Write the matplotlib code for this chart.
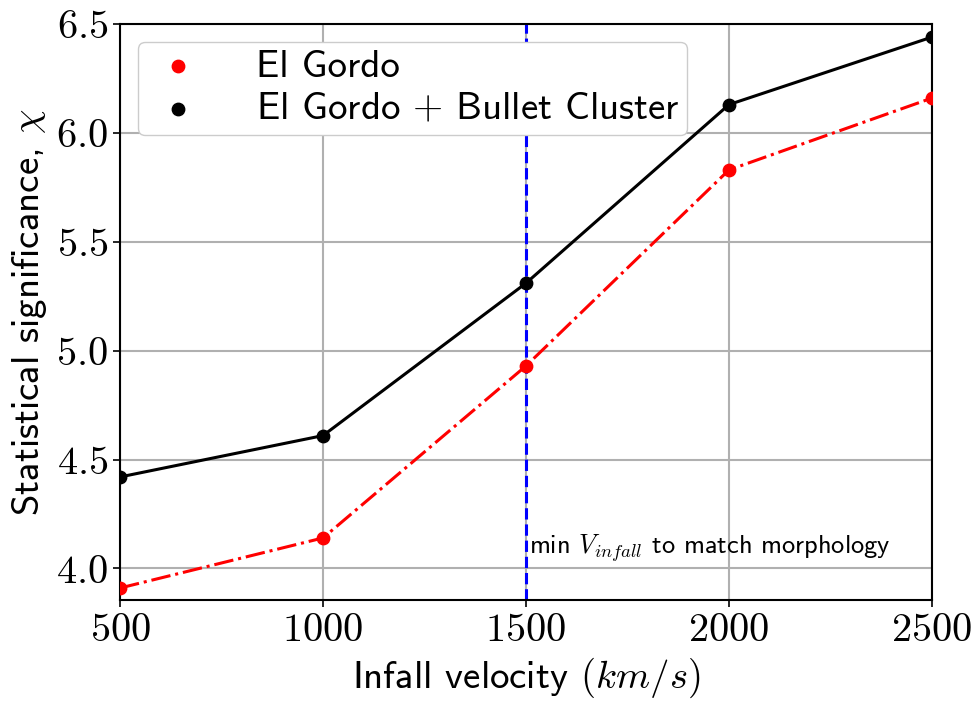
import matplotlib
matplotlib.use("Agg")
import matplotlib.pyplot as plt

plt.rcParams["mathtext.fontset"] = "cm"
plt.rcParams["font.family"] = ["cmss10", "DejaVu Sans"]
plt.rcParams["axes.unicode_minus"] = False

# data
velocity = [500, 1000, 1500, 2000, 2500]
chi_el_gordo = [3.91, 4.14, 4.93, 5.83, 6.16]
chi_combined = [4.42, 4.61, 5.31, 6.13, 6.44]
min_infall = 1500

xticks = [500, 1000, 1500, 2000, 2500]
yticks = [4.0, 4.5, 5.0, 5.5, 6.0, 6.5]

fig = plt.figure(figsize=(9.72, 7.03), dpi=100)
ax = fig.add_axes([120 / 972, 1 - 600 / 703, 812 / 972, 576 / 703])

ax.plot(velocity, chi_el_gordo, "-.", color="red", lw=2.2)
ax.plot(velocity, chi_combined, "-", color="black", lw=2.2)
ax.scatter(velocity, chi_el_gordo, s=80, color="red", zorder=3, label="El Gordo")
ax.scatter(velocity, chi_combined, s=80, color="black", zorder=3,
           label=r"El Gordo $+$ Bullet Cluster")

ax.axvline(min_infall, color="blue", ls="--", lw=2.2)
ax.text(min_infall + 8, 4.095, r"min $V_{infall}$ to match morphology",
        fontsize=19, va="center", ha="left")

ax.set_xlim(500, 2500)
ax.set_ylim(3.855, 6.5)
ax.set_xticks(xticks)
ax.set_xticklabels([f"${t}$" for t in xticks])
ax.set_yticks(yticks)
ax.set_yticklabels([f"${t:.1f}$" for t in yticks])
ax.tick_params(labelsize=29, length=5, width=1.2)
ax.grid(True, color="#b0b0b0", lw=1.5)
for s in ax.spines.values():
    s.set_linewidth(1.5)

ax.set_xlabel(r"Infall velocity $(km/s)$", fontsize=28, labelpad=5)
ax.set_ylabel(r"Statistical significance, $\chi$", fontsize=28, labelpad=5)

ax.legend(loc="upper left", fontsize=28, borderaxespad=0.45, handletextpad=1.15,
          handlelength=1.7, borderpad=0.2, labelspacing=0.2, framealpha=1.0)

fig.savefig("out.png", dpi=100)
